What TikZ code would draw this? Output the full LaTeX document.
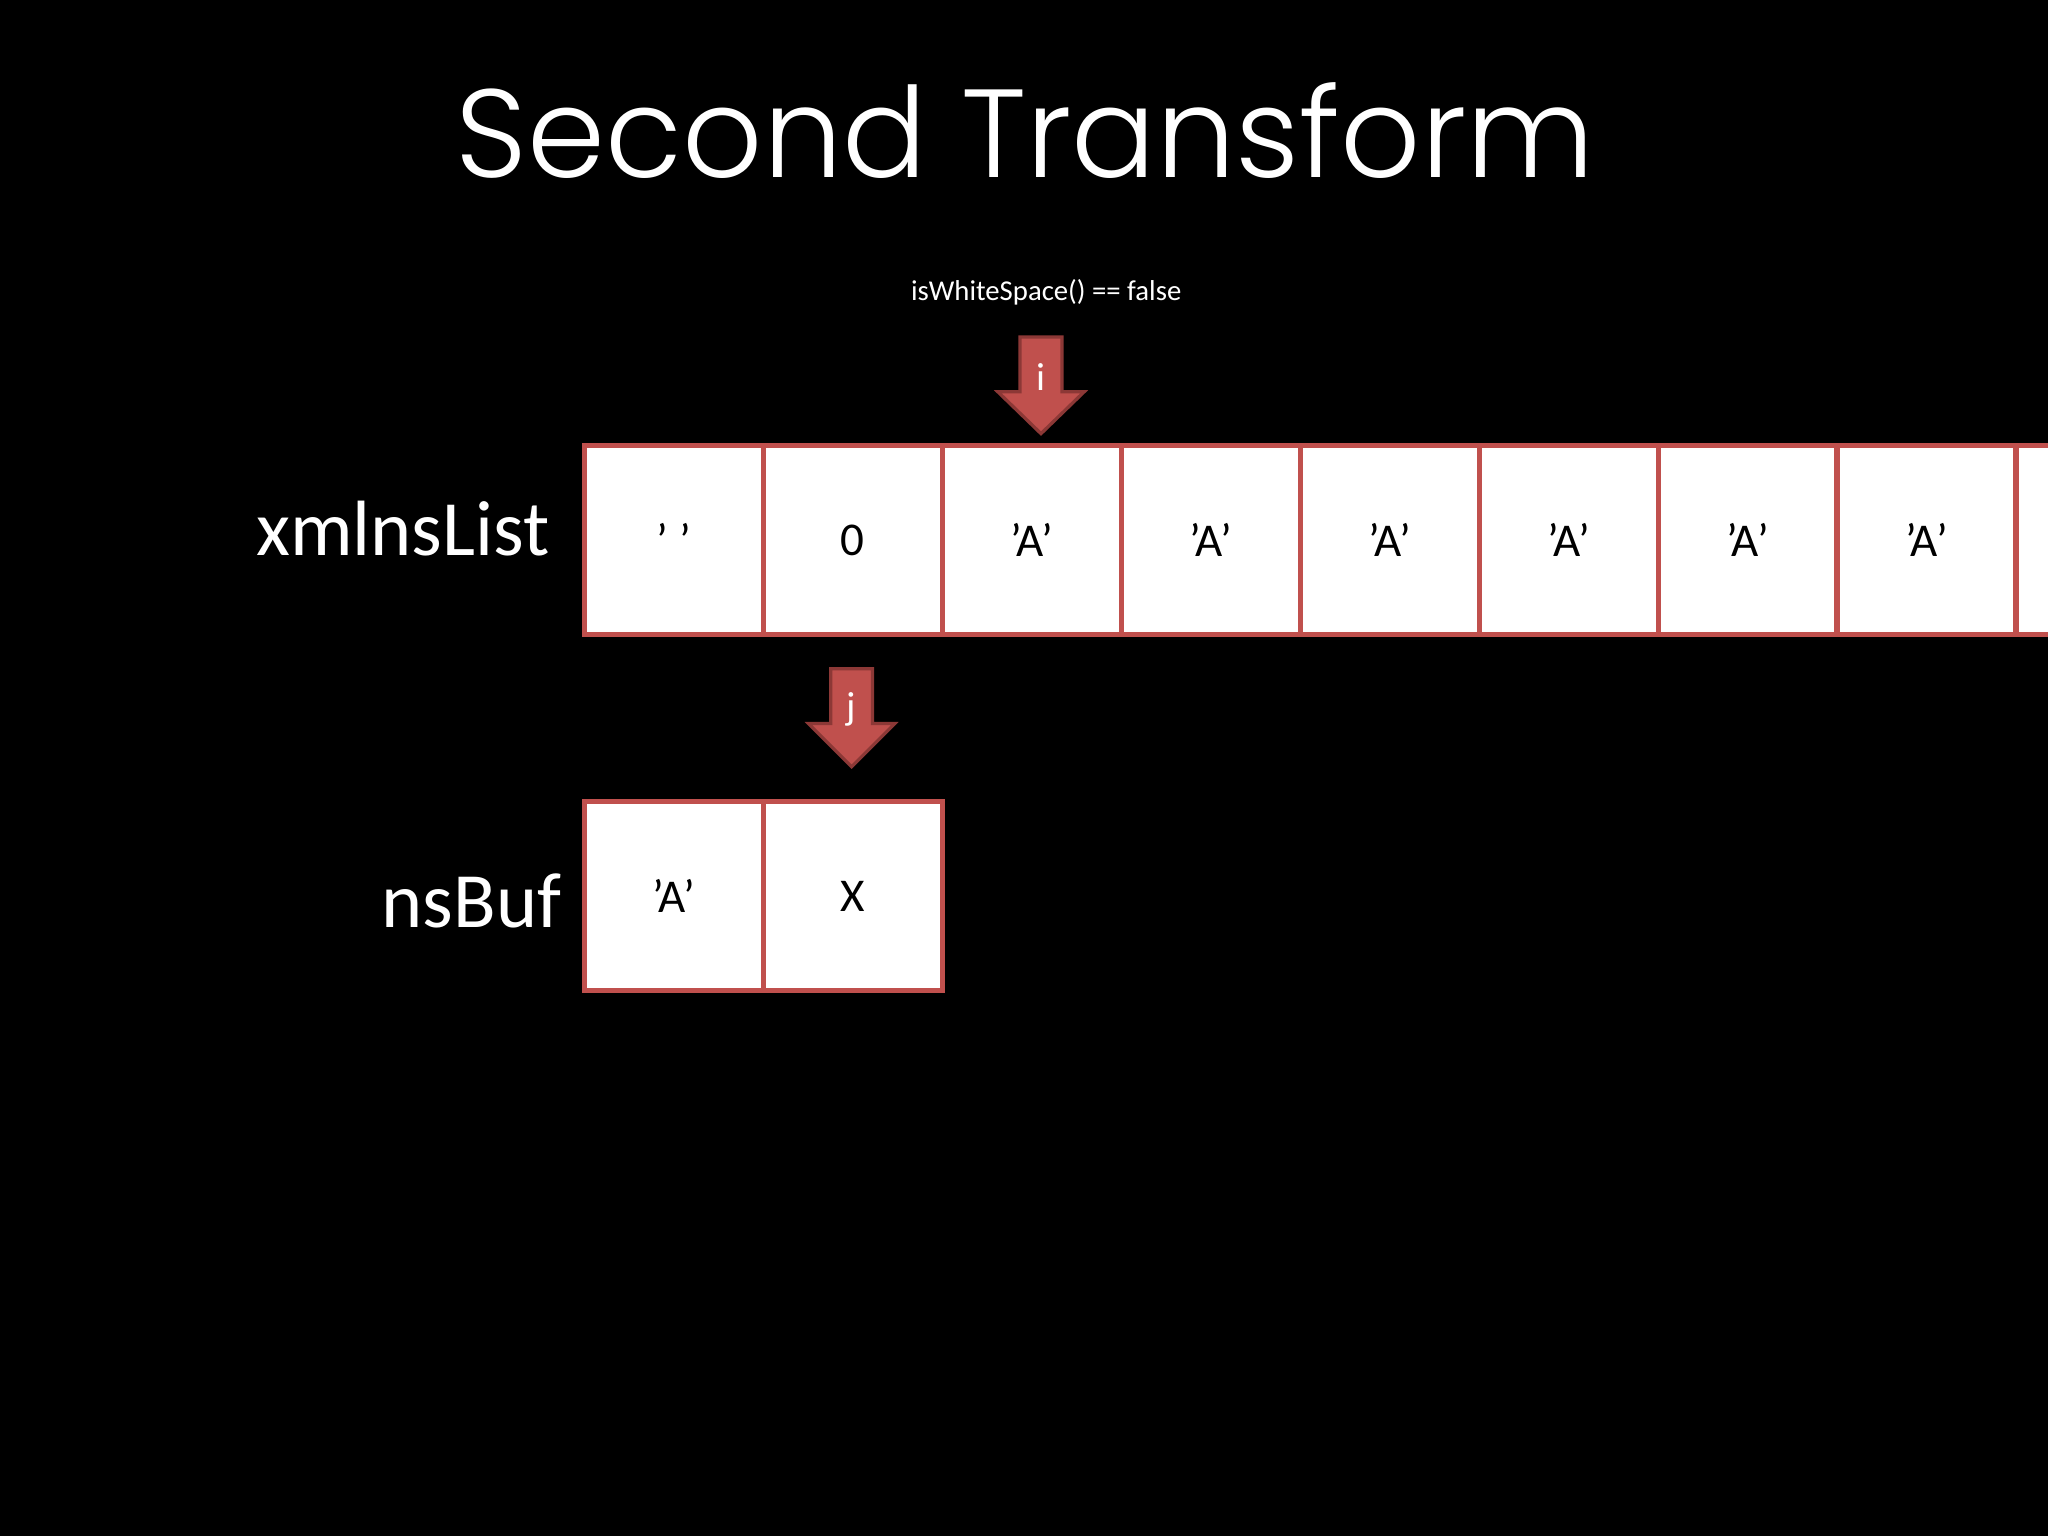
\documentclass[tikz,border=0pt]{standalone}
\usepackage{fontspec}
\setmainfont{Carlito}
\newfontfamily\titlefont{Poppins Light}
\definecolor{cellred}{RGB}{192,80,77}
\definecolor{arrowdark}{RGB}{140,56,54}
\newcommand{\sq}{{\char39}}
\begin{document}
\begin{tikzpicture}[x=1pt,y=-1pt,
  cell/.style={draw=cellred,line width=4pt,fill=white,minimum width=137pt,minimum height=145pt,inner sep=0,font=\fontsize{36}{40}\selectfont,text=black},
  lbl/.style={text=white,font=\fontsize{60}{66}\selectfont,anchor=east,inner sep=0},
  ptr/.style={fill=cellred,draw=arrowdark,line width=2.5pt,line join=miter},
  ptrtext/.style={text=white,font=\fontsize{30}{32}\selectfont}]
\useasboundingbox (0,0) rectangle (1568,1176);
\clip (0,0) rectangle (1568,1176);
\fill[black] (0,0) rectangle (1568,1176);
\node[text=white,font=\titlefont\fontsize{96}{110}\selectfont] (title) at (785,100) {Second Transform};
\foreach \t [count=\k from 0] in {\sq\ \sq,0,\sq A\sq,\sq A\sq,\sq A\sq,\sq A\sq,\sq A\sq,\sq A\sq,{}}{
  \node[cell] (c\k) at (516+137*\k,413.5) {\t};
}
\node[cell] (b0) at (516,686) {\sq A\sq};
\node[cell] (b1) at (653,686) {X};
\node[lbl] (l1) at (421,405) {xmlnsList};
\node[lbl] (l2) at (430,690) {nsBuf};
\draw[ptr] (781,258) -- (813,258) -- (813,300) -- (830,300) -- (797,332) -- (764,300) -- (781,300) -- cycle;
\node[ptrtext] (ti) at (797,289) {i};
\draw[ptr] (636,512) -- (668,512) -- (668,554) -- (685,554) -- (652,587) -- (619,554) -- (636,554) -- cycle;
\node[ptrtext] (tj) at (652,543) {j};
\node[text=white,font=\fontsize{22}{24}\selectfont] (cond) at (801,224) {isWhiteSpace() == false};
\end{tikzpicture}
\end{document}
